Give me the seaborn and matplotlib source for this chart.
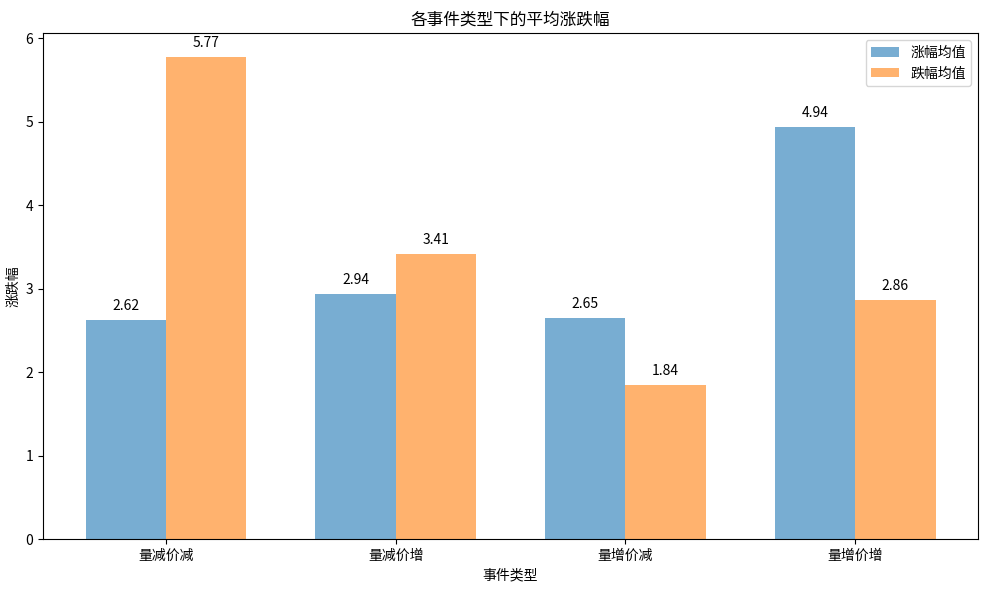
import matplotlib
matplotlib.use("Agg")
import matplotlib.pyplot as plt
import seaborn as sns
import pandas as pd

categories = ["量减价减", "量减价增", "量增价减", "量增价增"]
rise_mean = [2.62, 2.94, 2.65, 4.94]
fall_mean = [5.77, 3.41, 1.84, 2.86]
series_names = ["涨幅均值", "跌幅均值"]

sns.set_style("ticks")
plt.rcParams['font.family'] = ['Noto Sans CJK SC', 'DejaVu Sans']
plt.rcParams['axes.unicode_minus'] = False
for k in ['text.color', 'axes.labelcolor', 'xtick.color', 'ytick.color', 'axes.edgecolor']:
    plt.rcParams[k] = 'black'

df = pd.DataFrame({
    "事件类型": categories * 2,
    "值": rise_mean + fall_mean,
    "系列": [series_names[0]] * 4 + [series_names[1]] * 4,
})

fig, ax = plt.subplots(figsize=(9.89, 5.9), dpi=100)
sns.barplot(data=df, x="事件类型", y="值", hue="系列", order=categories,
            hue_order=series_names, palette=["#1f77b4", "#ff7f0e"],
            alpha=0.6, width=0.7, saturation=1, ax=ax, errorbar=None,
            linewidth=0, edgecolor="none")

for cont in ax.containers:
    for bar in cont:
        h = bar.get_height()
        ax.annotate(f"{h:.2f}", (bar.get_x() + bar.get_width() / 2, h),
                    xytext=(0, 5), textcoords="offset points",
                    ha="center", va="bottom", fontsize=10)

ax.set_xlim(-0.535, 3.535)
ax.set_ylim(0, 6.06)
ax.set_title("各事件类型下的平均涨跌幅", fontsize=12)
ax.set_xlabel("事件类型", fontsize=10)
ax.set_ylabel("涨跌幅", fontsize=10)
ax.tick_params(labelsize=10)
ax.legend(loc="upper right", fontsize=10)
for s in ax.spines.values():
    s.set_visible(True)
fig.subplots_adjust(left=0.0435, right=0.989, top=0.944, bottom=0.0864)
fig.savefig("out.png", dpi=100)
